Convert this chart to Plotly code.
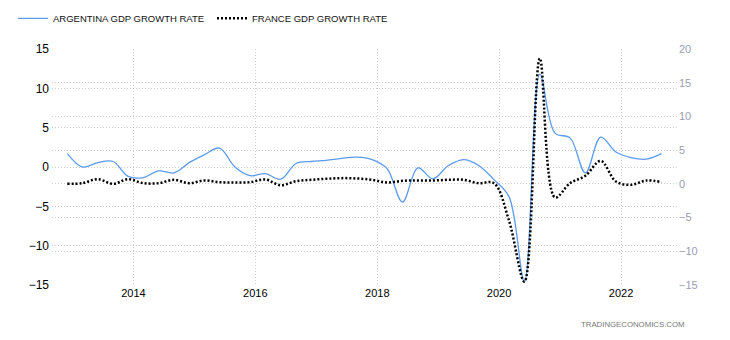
import plotly.graph_objects as go

# Quarterly GDP growth rate (QoQ, %) from Q4 2012 to Q3 2022
quarters = [
    "2012-12-01", "2013-03-01", "2013-06-01", "2013-09-01", "2013-12-01",
    "2014-03-01", "2014-06-01", "2014-09-01", "2014-12-01",
    "2015-03-01", "2015-06-01", "2015-09-01", "2015-12-01",
    "2016-03-01", "2016-06-01", "2016-09-01", "2016-12-01",
    "2017-03-01", "2017-06-01", "2017-09-01", "2017-12-01",
    "2018-03-01", "2018-06-01", "2018-09-01", "2018-12-01",
    "2019-03-01", "2019-06-01", "2019-09-01", "2019-12-01",
    "2020-03-01", "2020-06-01", "2020-09-01", "2020-12-01",
    "2021-03-01", "2021-06-01", "2021-09-01", "2021-12-01",
    "2022-03-01", "2022-06-01", "2022-09-01",
]

argentina = [
    1.7, 0.0, 0.55, 0.7, -1.2,
    -1.35, -0.5, -0.75, 0.55,
    1.55, 2.4, 0.0, -1.1,
    -0.85, -1.55, 0.45, 0.7,
    0.85, 1.1, 1.25, 0.95,
    -0.2, -4.45, -0.1, -1.5,
    0.15, 0.95, 0.2, -1.6,
    -3.8, -14.6, 11.8, 4.3,
    3.7, -0.75, 3.8, 1.9,
    1.2, 1.0, 1.7,
]

france = [
    0.0, 0.1, 0.7, 0.0, 0.7,
    0.1, 0.1, 0.6, 0.1,
    0.5, 0.25, 0.2, 0.25,
    0.65, -0.2, 0.4, 0.6,
    0.75, 0.85, 0.8, 0.6,
    0.2, 0.45, 0.5, 0.5,
    0.6, 0.6, 0.1, 0.1,
    -5.5, -14.5, 18.6, -2.0,
    0.1, 1.2, 3.4, 0.35,
    -0.15, 0.5, 0.25,
]

left_ticks = [-15, -10, -5, 0, 5, 10, 15]
right_ticks = [-15, -10, -5, 0, 5, 10, 15, 20]
year_ticks = ["2014-01-01", "2016-01-01", "2018-01-01", "2020-01-01", "2022-01-01"]
year_labels = ["2014", "2016", "2018", "2020", "2022"]

FONT = "Liberation Sans, Arial, sans-serif"
GRID = "#cfcfcf"
GRID_DASH = "1px,2px"

fig = go.Figure()
fig.add_trace(go.Scatter(
    x=quarters, y=argentina, name="ARGENTINA GDP GROWTH RATE",
    mode="lines", line=dict(color="#5b9bee", width=1.3, shape="spline"),
    yaxis="y",
))
fig.add_trace(go.Scatter(
    x=quarters, y=france, name="FRANCE GDP GROWTH RATE",
    mode="lines", line=dict(color="#000000", width=2.5, dash="2px,2px", shape="spline"),
    yaxis="y2",
))

fig.update_layout(
    width=730, height=340,
    margin=dict(l=52, r=52, t=49, b=55, autoexpand=False),
    paper_bgcolor="white", plot_bgcolor="white",
    font=dict(family=FONT, color="#000000"),
    showlegend=True,
    legend=dict(
        orientation="h", x=-0.0623, xanchor="left", y=1.13, yanchor="middle",
        font=dict(family=FONT, size=9.5, color="#111111"),
        bgcolor="rgba(0,0,0,0)", itemwidth=30,
        entrywidth=154, entrywidthmode="pixels",
    ),
    xaxis=dict(
        type="date", range=["2012-08-31", "2022-12-08"],
        tickvals=year_ticks, ticktext=year_labels,
        showgrid=True, gridcolor=GRID, griddash=GRID_DASH, gridwidth=1,
        zeroline=False, showline=False, ticks="",
        tickfont=dict(family=FONT, size=11, color="#000000"),
    ),
    yaxis=dict(
        range=[-15, 15], tickvals=left_ticks,
        showgrid=True, gridcolor=GRID, griddash=GRID_DASH, gridwidth=1,
        zeroline=False, showline=False, ticks="",
        tickfont=dict(family=FONT, size=12, color="#000000"),
        ticklabelstandoff=2,
    ),
    yaxis2=dict(
        range=[-15, 20], tickvals=right_ticks, overlaying="y", side="right",
        showgrid=True, gridcolor=GRID, griddash=GRID_DASH, gridwidth=1,
        zeroline=False, showline=False, ticks="",
        tickfont=dict(family=FONT, size=11, color="#9c9cb4"),
        ticklabelstandoff=0,
    ),
    annotations=[dict(
        text="TRADINGECONOMICS.COM", xref="paper", yref="paper",
        x=1.0144, xanchor="right", y=-0.167, yanchor="middle", showarrow=False,
        font=dict(family=FONT, size=7.8, color="#777777"),
    )],
)

fig.write_html("out.html")
